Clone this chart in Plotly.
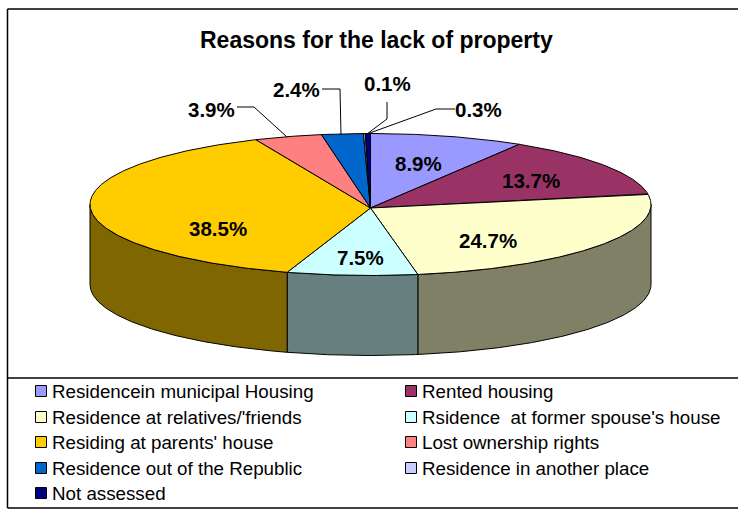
import math
import plotly.graph_objects as go

categories = ["Residencein municipal Housing", "Rented housing", "Residence at relatives/'friends",
              "Rsidence  at former spouse's house", "Residing at parents' house", "Lost ownership rights",
              "Residence out of the Republic", "Residence in another place", "Not assessed"]
values = [8.9, 13.7, 24.7, 7.5, 38.5, 3.9, 2.4, 0.1, 0.3]
colors = ["#9999FF", "#993366", "#FFFFCC", "#CCFFFF", "#FFCC00", "#FF8080", "#0066CC", "#CCCCFF", "#000080"]
side_colors = ["#4D4D80", "#4D1A33", "#808066", "#668080", "#806600", "#804040", "#003366", "#666680", "#000040"]
title = "Reasons for the lack of property"

# presentation geometry, in figure pixels
W, H = 738, 510
CX, CY, RX, RY, DEPTH = 370.5, 204.5, 280.5, 71, 80
APEX = (370.5, 208)
label_pos = [(418, 163), (531, 180), (488, 240), (360, 257), (218, 228), (211, 109), (296, 89), (387, 83), (478, 109)]
leaders = {5: [(237, 107), (254, 107), (287, 137)],
           6: [(322, 89), (340, 89), (341, 135)],
           7: [(387, 102), (387, 119), (367, 134)],
           8: [(455, 109), (436, 109), (367, 134)]}
legend_x = [41, 411]
legend_y = [391, 417, 442, 468, 493]
legend_rows = [(0, 0, 0), (1, 0, 1), (2, 1, 0), (3, 1, 1), (4, 2, 0), (5, 2, 1), (6, 3, 0), (7, 3, 1), (8, 4, 0)]


def pt(deg, dy=0.0):
    a = math.radians(deg)
    return CX + RX * math.sin(a), CY - RY * math.cos(a) + dy


def arc(a0, a1):
    n = max(2, int(abs(a1 - a0) * 2) + 1)
    return [a0 + (a1 - a0) * i / (n - 1) for i in range(n)]


total = sum(values)
edges = [0.0]
for v in values:
    edges.append(edges[-1] + v / total * 360)

fig = go.Figure()

# side walls (front half only)
for i in range(len(values)):
    a0, a1 = max(edges[i], 90), min(edges[i + 1], 270)
    if a1 <= a0:
        continue
    top = [pt(a) for a in arc(a0, a1)]
    bot = [pt(a, DEPTH) for a in arc(a1, a0)]
    pts = top + bot + top[:1]
    fig.add_trace(go.Scatter(x=[p[0] for p in pts], y=[p[1] for p in pts], mode="lines", fill="toself",
                             fillcolor=side_colors[i], line=dict(color="black", width=1),
                             hoverinfo="skip", showlegend=False))

# top slices
for i, name in enumerate(categories):
    pts = [APEX] + [pt(a) for a in arc(edges[i], edges[i + 1])] + [APEX]
    fig.add_trace(go.Scatter(x=[p[0] for p in pts], y=[p[1] for p in pts], mode="lines", fill="toself",
                             fillcolor=colors[i], line=dict(color="black", width=1),
                             name=name, showlegend=False))

# leader lines
for pts in leaders.values():
    fig.add_trace(go.Scatter(x=[p[0] for p in pts], y=[p[1] for p in pts], mode="lines",
                             line=dict(color="black", width=1), hoverinfo="skip", showlegend=False))

# value labels
for (x, y), v in zip(label_pos, values):
    fig.add_annotation(x=x, y=y, text=f"<b>{v:.1f}%</b>", showarrow=False, xanchor="center", yanchor="middle",
                       font=dict(family="Liberation Sans", size=20.5, color="black"))

# legend
for idx, r, c in legend_rows:
    x, y = legend_x[c], legend_y[r]
    fig.add_shape(type="rect", x0=x - 5.5, x1=x + 5.5, y0=y - 5.5, y1=y + 5.5, fillcolor=colors[idx],
                  line=dict(color="black", width=1))
    fig.add_annotation(x=x + 9, y=y, text=categories[idx], showarrow=False, xanchor="left", yanchor="middle",
                       font=dict(family="Liberation Sans", size=18.75, color="black"))

# frames
fig.add_shape(type="line", x0=7.5, x1=7.5, y0=9, y1=508, line=dict(color="black", width=1.5))
fig.add_shape(type="line", x0=7.5, x1=738, y0=9, y1=9, line=dict(color="black", width=1.5))
fig.add_shape(type="line", x0=7.5, x1=738, y0=378, y1=378, line=dict(color="black", width=1.5))
fig.add_shape(type="line", x0=7.5, x1=738, y0=508, y1=508, line=dict(color="black", width=1.5))

fig.add_annotation(x=376, y=40, text=f"<b>{title}</b>", showarrow=False, xanchor="center", yanchor="middle",
                   font=dict(family="Liberation Sans", size=23, color="black"))

fig.update_layout(width=W, height=H, margin=dict(l=0, r=0, t=0, b=0), paper_bgcolor="white", plot_bgcolor="white",
                  showlegend=False,
                  xaxis=dict(range=[0, W], visible=False, fixedrange=True),
                  yaxis=dict(range=[H, 0], visible=False, fixedrange=True))
fig.write_html("out.html", config={"displayModeBar": False},
               post_script="document.body.style.margin='0';document.documentElement.style.overflow='hidden';")
